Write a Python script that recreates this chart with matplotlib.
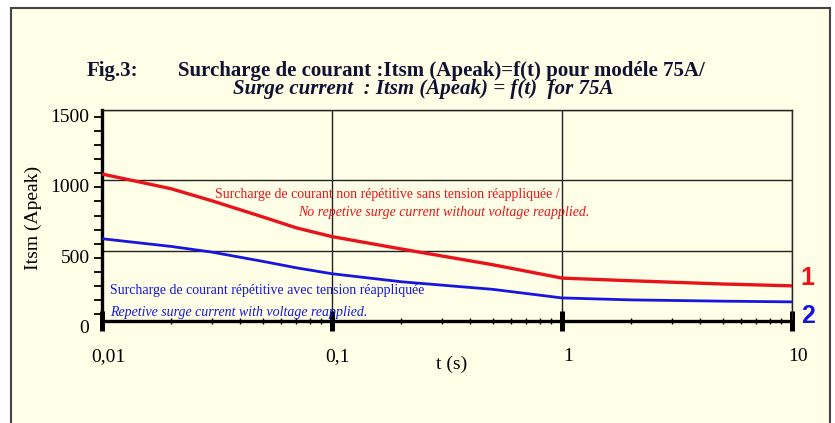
import matplotlib
matplotlib.use("Agg")
import matplotlib.pyplot as plt
from matplotlib.patches import Rectangle
from matplotlib.ticker import FixedLocator, NullFormatter
from matplotlib.transforms import ScaledTranslation

# time (s) and surge current Itsm (A peak)
t_s = [0.01, 0.02, 0.03, 0.05, 0.07, 0.1, 0.2, 0.5, 1, 2, 5, 10]
itsm_non_rep = [1045, 940, 855, 740, 662, 600, 512, 400, 305, 286, 263, 250]
itsm_rep = [585, 530, 490, 424, 378, 336, 279, 225, 164, 150, 141, 136]

x_ticks = [0.01, 0.1, 1, 10]
x_tick_labels = ["0,01", "0,1", "1", "10"]
y_ticks = [0, 500, 1000, 1500]
y_tick_labels = ["0", "500", "1000", "1500"]
y_minor = [50 + 100 * k for k in range(15)]

cream = "#fffee6"
red = "#e8131b"
blue = "#1616e0"
serif = "Liberation Serif"

fig = plt.figure(figsize=(8.35, 4.23), dpi=100)
fig.patch.set_facecolor("white")
fig.patches.append(Rectangle((11 / 835, -0.05), 819 / 835, 1.05 - 8 / 423,
                             transform=fig.transFigure, facecolor=cream,
                             edgecolor="#444444", lw=1.5, zorder=-5))

ax = fig.add_axes([102 / 835, 1 - 321 / 423, 690 / 835, 211 / 423])
ax.set_zorder(2)
ax.set_facecolor(cream)
ax.set_xscale("log")
ax.set_xlim(0.01, 10)
ax.set_ylim(0, 1500)

ax.plot(t_s, itsm_non_rep, color=red, lw=2.4, zorder=3, solid_capstyle="butt")
ax.plot(t_s, itsm_rep, color=blue, lw=2.0, zorder=3, solid_capstyle="butt")

# axes frame
for side in ["left", "bottom"]:
    ax.spines[side].set_linewidth(2.4)
    ax.spines[side].set_color("black")
for side in ["top", "right"]:
    ax.spines[side].set_linewidth(1.0)
    ax.spines[side].set_color("#222222")

ax.grid(True, which="major", color="#222222", lw=1.0)
ax.set_axisbelow(True)

ax.xaxis.set_major_locator(FixedLocator(x_ticks))
ax.set_xticklabels(x_tick_labels, fontfamily=serif, fontsize=14)
ax.xaxis.set_minor_locator(FixedLocator(
    [m * 10.0 ** e for e in (-2, -1, 0) for m in range(2, 10)]))
ax.xaxis.set_minor_formatter(NullFormatter())
ax.tick_params(axis="x", which="major", direction="inout", length=14,
               width=3.6, pad=12.5, color="black")
ax.tick_params(axis="x", which="minor", direction="inout", length=5,
               width=1.0, color="black")

ax.yaxis.set_major_locator(FixedLocator(y_ticks))
ax.set_yticklabels(y_tick_labels, fontfamily=serif, fontsize=14)
ax.yaxis.set_minor_locator(FixedLocator(y_minor))
ax.tick_params(axis="y", which="major", length=0, pad=9)
ax.tick_params(axis="y", which="minor", direction="out", length=6,
               width=1.3, color="black")

for lab in ax.get_xticklabels():
    lab.set_transform(lab.get_transform() + ScaledTranslation(0.06, 0, fig.dpi_scale_trans))
for lab in ax.get_yticklabels():
    lab.set_transform(lab.get_transform() + ScaledTranslation(0, -0.055, fig.dpi_scale_trans))

ax.set_xlabel("t (s)", fontfamily=serif, fontsize=14)
ax.xaxis.set_label_coords(0.507, -0.165)
ax.set_ylabel("Itsm (Apeak)", fontfamily=serif, fontsize=14)
ax.yaxis.set_label_coords(-0.087, 0.49)

# curve captions
ax.text(0.031, 900, "Surcharge de courant non répétitive sans tension réappliquée /",
        color=red, fontfamily=serif, fontsize=10, va="center", ha="left")
ax.text(0.0711, 771, "No repetive surge current without voltage reapplied.",
        color=red, fontfamily=serif, fontsize=10, style="italic", va="center", ha="left")
ax.text(0.0108, 214, "Surcharge de courant répétitive avec tension réappliquée",
        color=blue, fontfamily=serif, fontsize=10, va="center", ha="left")
ax.text(0.0108, 57, "Repetive surge current with voltage reapplied.",
        color=blue, fontfamily=serif, fontsize=10, style="italic", va="center", ha="left")

ax.text(1.023, 0.205, "1", transform=ax.transAxes, color=red, fontsize=18,
        fontweight="bold", fontfamily="Liberation Sans", ha="center",
        va="center", clip_on=False)
ax.text(1.023, 0.025, "2", transform=ax.transAxes, color=blue, fontsize=18,
        fontweight="bold", fontfamily="Liberation Sans", ha="center",
        va="center", clip_on=False)

# title block
fig.text(87 / 835, 1 - 71 / 423, "Fig.3:", fontfamily=serif, fontsize=15,
         fontweight="bold", color="#111133", va="center", ha="left")
fig.text(178 / 835, 1 - 71 / 423,
         "Surcharge de courant :Itsm (Apeak)=f(t) pour modéle 75A/",
         fontfamily=serif, fontsize=15, fontweight="bold", color="#111133",
         va="center", ha="left")
fig.text(233 / 835, 1 - 89 / 423,
         "Surge current  : Itsm (Apeak) = f(t)  for 75A",
         fontfamily=serif, fontsize=15, fontweight="bold", style="italic",
         color="#111133", va="center", ha="left")

fig.savefig("out.png", dpi=100, facecolor=fig.get_facecolor())
